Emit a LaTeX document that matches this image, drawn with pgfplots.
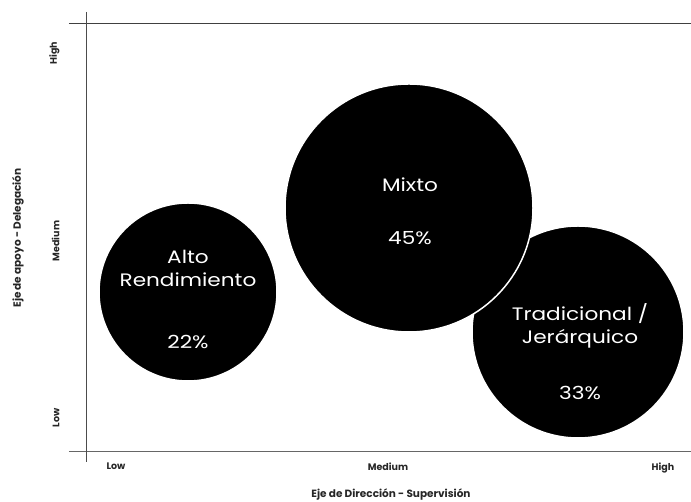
\documentclass[border=0pt]{standalone}
\usepackage{fontspec}
\setmainfont{Poppins}
\usepackage{pgfplots}
\pgfplotsset{compat=1.18}
\begin{document}
\begin{tikzpicture}
\begin{axis}[
  name=ax,
  set layers,
  scale only axis,
  width=604pt, height=428pt,
  xmin=0, xmax=604, ymin=0, ymax=428,
  clip=false,
  xtick={29,301,576}, xticklabels={Low,Medium,High},
  ytick={34,211,399}, yticklabels={Low,Medium,High},
  major tick length=0pt,
  tick label style={font=\fontsize{9.5}{11}\selectfont\bfseries, text=black!85},
  xticklabel style={anchor=north},
  xticklabel shift=7pt,
  yticklabel style={rotate=90, anchor=south},
  yticklabel shift=24pt,
  axis line style={draw=none},
]
% axis frame lines
\draw[black!75, line width=1pt] (axis cs:-18,428) -- (axis cs:604,428);
\draw[black!60, line width=1pt] (axis cs:-18,0) -- (axis cs:604,0);
\draw[black!70, line width=1pt] (axis cs:0,440) -- (axis cs:0,-10);
% bubbles
\addplot[only marks, mark=*, mark size=89pt, mark options={fill=black, draw=white, line width=1.5pt}] coordinates {(101,160)};
\addplot[only marks, mark=*, mark size=106pt, mark options={fill=black, draw=white, line width=1.5pt}] coordinates {(491,120)};
\addplot[only marks, mark=*, mark size=124pt, mark options={fill=black, draw=white, line width=1.5pt}] coordinates {(322,244)};
% bubble labels
\begin{pgfonlayer}{axis foreground}
\begin{scope}[every node/.style={text=white, font=\fontsize{18}{21}\selectfont, inner sep=0pt, xscale=1.2}]
\node at (axis cs:101,195) {Alto};
\node at (axis cs:101,172) {Rendimiento};
\node at (axis cs:101,110) {22\%};
\node at (axis cs:323,267) {Mixto};
\node at (axis cs:323,214) {45\%};
\node at (axis cs:493,138) {Tradicional /};
\node at (axis cs:493,113) {Jerárquico};
\node at (axis cs:493,59) {33\%};
\end{scope}
\end{pgfonlayer}
% axis titles
\node[font=\fontsize{10.5}{12}\selectfont\bfseries, text=black!85] at (axis cs:304,-43) {Eje de Dirección - Supervisión};
\node[rotate=90, font=\fontsize{10.5}{12}\selectfont\bfseries, text=black!85] at (axis cs:-69,214) {Eje de apoyo - Delegación};
\end{axis}
\pgfresetboundingbox
\path[use as bounding box] ([shift={(-87pt,-50pt)}]ax.south west) rectangle ([shift={(0pt,24pt)}]ax.north east);
\end{tikzpicture}
\end{document}
